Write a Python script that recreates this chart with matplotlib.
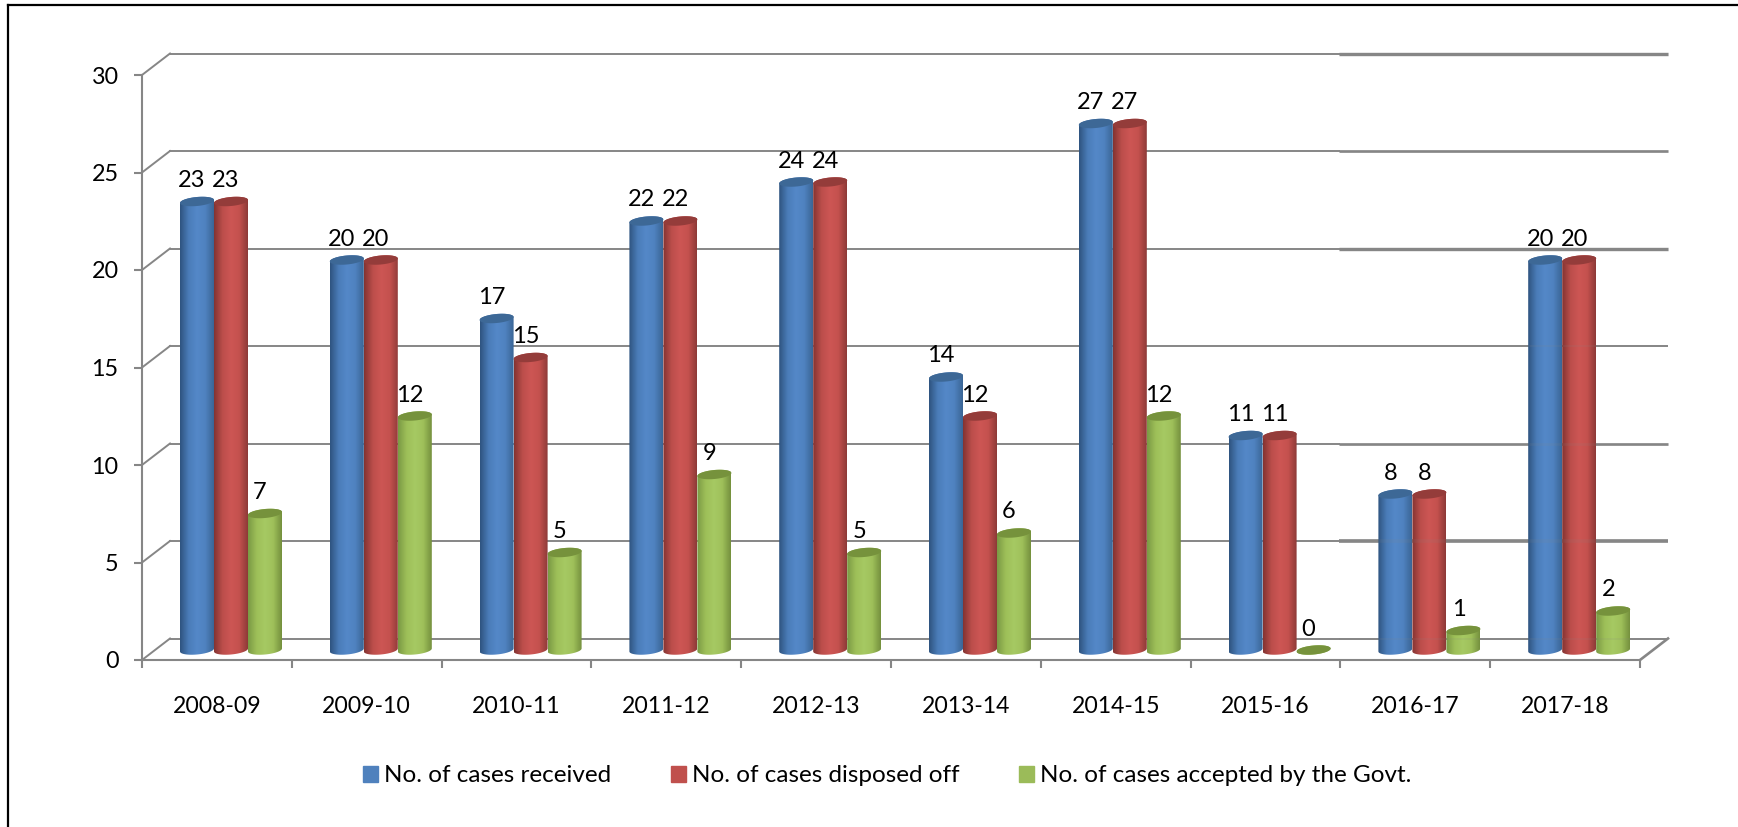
"""Cases received / disposed off / accepted, Excel style 3D cylinder columns."""
import matplotlib
matplotlib.use('Agg')
import matplotlib.pyplot as plt
import numpy as np
from matplotlib.colors import LinearSegmentedColormap
from matplotlib.lines import Line2D
from matplotlib.patches import Patch, PathPatch
from matplotlib.path import Path

years = ['2008-09', '2009-10', '2010-11', '2011-12', '2012-13',
         '2013-14', '2014-15', '2015-16', '2016-17', '2017-18']
received = [23, 20, 17, 22, 24, 14, 27, 11, 8, 20]
disposed = [23, 20, 15, 22, 24, 12, 27, 11, 8, 20]
accepted = [7, 12, 5, 9, 5, 6, 12, 0, 1, 2]
y_ticks = [0, 5, 10, 15, 20, 25, 30]

series_names = ['No. of cases received', 'No. of cases disposed off',
                'No. of cases accepted by the Govt.']
swatch = ['#4f81bd', '#c0504d', '#9bbb59']
top_col = ['#3d6896', '#943c3a', '#76923c']
shades = [['#2f5480', '#4a7cb8', '#5488c8', '#4f82c0', '#3b6696'],
          ['#843432', '#bc4e4b', '#cd5654', '#c4514e', '#8e3a38'],
          ['#7b9a45', '#9dbf58', '#a6c963', '#9fc05a', '#75913e']]

W, H = 1738, 827
GRID = '#868686'
plt.rcParams['font.family'] = ['Lato', 'DejaVu Sans']

fig = plt.figure(figsize=(W / 100, H / 100), dpi=100)
ax = fig.add_axes([142 / W, (H - 660) / H, 1498 / W, 585 / H])
ax.patch.set_alpha(0)

# one pixel in data units
px = 10 / 1498
py = 30 / 585
depth_x = 28 * px
depth_y = 21.5 * py
split_x = (1339 - 142) * px      # back wall lines change weight here
back_w = {0: 1.4, 5: 2.6, 10: 1.9, 15: 1.4, 20: 2.4, 25: 1.9, 30: 2.4}

# back wall and the depth lines
for v in y_ticks:
    yb = v + depth_y
    ax.plot([0, depth_x], [v, yb], color=GRID, lw=1.4, clip_on=False, zorder=1)
    ax.plot([depth_x, split_x], [yb, yb], color=GRID, lw=1.4, clip_on=False, zorder=1)
    ax.plot([split_x, 10 + depth_x], [yb, yb], color=GRID, lw=back_w[v],
            clip_on=False, zorder=1, solid_capstyle='butt')
    # the right part of the picture shows the lines faintly through the bars
    ax.plot([split_x, 10 + depth_x], [yb, yb], color=GRID, lw=back_w[v], alpha=0.12,
            clip_on=False, zorder=6, solid_capstyle='butt')
ax.plot([10, 10 + depth_x], [0, depth_y], color=GRID, lw=1.9, clip_on=False, zorder=1)

bar_w = 34 * px
start = 38 * px
base = 10 * py      # bars stand in the middle of the floor
ell_b = 4.5 * py
ell_s = 1.5 * py
t = np.linspace(0, 2 * np.pi, 73)


def ellipse(xc, yc):
    return xc + bar_w / 2 * np.cos(t), yc + ell_b * np.sin(t) + ell_s * np.cos(t)


def draw_bar(x0, val, k, z):
    xc = x0 + bar_w / 2
    tx, ty = ellipse(xc, base + val)
    # body: lower half of the bottom ellipse, then up and over the top one
    low = t[36:]
    bx = xc + bar_w / 2 * np.cos(low)
    by = base + ell_b * np.sin(low) + ell_s * np.cos(low)
    up = t[:37]
    ux = xc + bar_w / 2 * np.cos(up)
    uy = base + val + ell_b * np.sin(up) + ell_s * np.cos(up)
    verts = np.vstack([np.c_[bx, by], np.c_[ux, uy], [bx[0], by[0]]])
    body = PathPatch(Path(verts, closed=True), fc='none', ec='none', zorder=z)
    ax.add_patch(body)
    cmap = LinearSegmentedColormap.from_list('c', shades[k])
    im = ax.imshow(np.linspace(0, 1, 64)[None, :], cmap=cmap, aspect='auto',
                   extent=(x0, x0 + bar_w, 0, base + val + 1), zorder=z)
    im.set_clip_path(body)
    ax.fill(tx, ty, color=top_col[k], lw=0, zorder=z + 0.1)


for k, vals in enumerate([received, disposed, accepted]):
    for i, v in enumerate(vals):
        x0 = i + start + k * bar_w
        draw_bar(x0, v, k, 3 + k * 0.2)
        ax.annotate(str(v), (x0 + bar_w / 2, base + v), xytext=(-5, 21),
                    textcoords='offset pixels', ha='center', va='center',
                    fontsize=17, color='black', zorder=8)

ax.set_xlim(0, 10)
ax.set_ylim(0, 30)

for s in ['top', 'right']:
    ax.spines[s].set_visible(False)
for s in ['left', 'bottom']:
    ax.spines[s].set_color(GRID)
    ax.spines[s].set_linewidth(1.5)
    ax.spines[s].set_zorder(2)

ax.set_yticks(y_ticks)
ax.set_xticks(range(11))
ax.set_xticklabels([])
ax.set_xticks(np.arange(10) + 0.5, years, minor=True)
ax.tick_params(axis='y', length=5.8, width=1.5, color=GRID, pad=11, labelsize=16.8)
ax.tick_params(axis='x', which='major', length=5.8, width=1.5, color=GRID)
ax.tick_params(axis='x', which='minor', length=0, pad=25.7, labelsize=16.6)

handles = [Patch(color=c, label=n) for c, n in zip(swatch, series_names)]
fig.legend(handles=handles, ncol=3, frameon=False, fontsize=17.45,
           loc='center left', bbox_to_anchor=(363 / W, (H - 776) / H),
           borderpad=0, borderaxespad=0,
           handlelength=0.62, handleheight=0.62, handletextpad=0.25,
           columnspacing=2.45)

# page frame, only top and left made it into the crop
fig.add_artist(Line2D([8 / W, 8 / W], [0, (H - 5) / H], color='black', lw=1.6))
fig.add_artist(Line2D([8 / W, 1], [(H - 5) / H, (H - 5) / H], color='black', lw=1.6))

fig.savefig('out.png', dpi=100)
